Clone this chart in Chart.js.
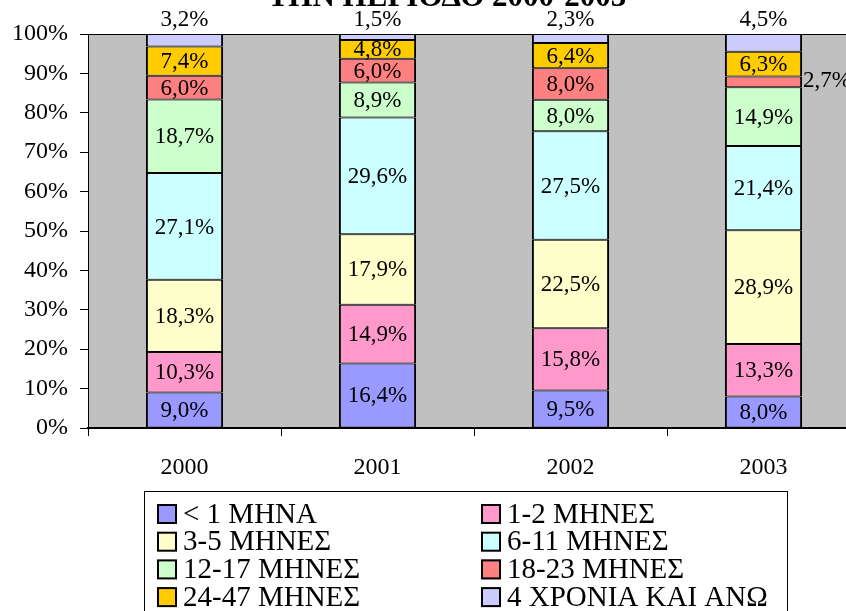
<!DOCTYPE html>
<html>
<head>
<meta charset="utf-8">
<script src="https://cdn.jsdelivr.net/npm/chart.js@4"></script>
<style>
  html, body { margin: 0; padding: 0; background: #fff; overflow: hidden; }
  #wrap { width: 880px; height: 611px; }
</style>
</head>
<body>
<div id="wrap"><canvas id="chart" width="880" height="611"></canvas></div>
<script>
(function () {
  'use strict';

  // ── Data ────────────────────────────────────────────
  const years = ['2000', '2001', '2002', '2003'];
  const seriesNames = ['< 1 ΜΗΝΑ', '1-2 ΜΗΝΕΣ', '3-5 ΜΗΝΕΣ', '6-11 ΜΗΝΕΣ',
    '12-17 ΜΗΝΕΣ', '18-23 ΜΗΝΕΣ', '24-47 ΜΗΝΕΣ', '4 ΧΡΟΝΙΑ ΚΑΙ ΑΝΩ'];
  const under1 = [9.0, 16.4, 9.5, 8.0];
  const m1to2 = [10.3, 14.9, 15.8, 13.3];
  const m3to5 = [18.3, 17.9, 22.5, 28.9];
  const m6to11 = [27.1, 29.6, 27.5, 21.4];
  const m12to17 = [18.7, 8.9, 8.0, 14.9];
  const m18to23 = [6.0, 6.0, 8.0, 2.7];
  const m24to47 = [7.4, 4.8, 6.4, 6.3];
  const y4plus = [3.2, 1.5, 2.3, 4.5];
  const yTicks = [0, 10, 20, 30, 40, 50, 60, 70, 80, 90, 100];
  const titleText = 'ΤΗΝ ΠΕΡΙΟΔΟ 2000-2003';

  const seriesValues = [under1, m1to2, m3to5, m6to11, m12to17, m18to23, m24to47, y4plus];
  const colors = ['#9999FF', '#FF99CC', '#FFFFCC', '#CCFFFF', '#CCFFCC', '#FF8080', '#FFCC00', '#CCCCFF'];
  const SERIF = "'Liberation Serif', 'Times New Roman', serif";

  function pct(v) { return v.toFixed(1).replace('.', ',') + '%'; }

  // gray plot background + top frame line
  const plotBg = {
    id: 'plotBg',
    beforeDraw: function (chart) {
      const a = chart.chartArea, ctx = chart.ctx;
      ctx.save();
      ctx.fillStyle = '#C0C0C0';
      ctx.fillRect(a.left, a.top, a.right - a.left, a.bottom - a.top);
      ctx.strokeStyle = '#000';
      ctx.lineWidth = 1;
      ctx.beginPath();
      ctx.moveTo(a.left, a.top + 0.5);
      ctx.lineTo(a.right, a.top + 0.5);
      ctx.stroke();
      ctx.restore();
    }
  };

  // value labels inside / above bars
  const barLabels = {
    id: 'barLabels',
    afterDatasetsDraw: function (chart) {
      const ctx = chart.ctx;
      const last = chart.data.datasets.length - 1;
      ctx.save();
      ctx.font = '23px ' + SERIF;
      ctx.fillStyle = '#000';
      ctx.textBaseline = 'middle';
      chart.data.datasets.forEach(function (ds, di) {
        chart.getDatasetMeta(di).data.forEach(function (bar, i) {
          const v = ds.data[i];
          const p = bar.getProps(['x', 'y', 'base', 'width'], true);
          if (di === last) {
            ctx.textAlign = 'center';
            ctx.fillText(pct(v), p.x, p.y - 14);
          } else if (v < 3.5) {
            ctx.textAlign = 'left';
            ctx.fillText(pct(v), p.x + p.width / 2 + 1, (p.y + p.base) / 2 - 1);
          } else {
            ctx.textAlign = 'center';
            ctx.fillText(pct(v), p.x, (p.y + p.base) / 2 + 1);
          }
        });
      });
      ctx.restore();
    }
  };

  // title (cut off at top) and two-column boxed legend
  const extras = {
    id: 'extras',
    afterDraw: function (chart) {
      const ctx = chart.ctx;
      ctx.save();
      ctx.fillStyle = '#000';
      ctx.font = 'bold 31px ' + SERIF;
      ctx.textAlign = 'center';
      ctx.textBaseline = 'alphabetic';
      ctx.fillText(titleText, 447, 6);

      ctx.strokeStyle = '#000';
      ctx.lineWidth = 1;
      ctx.strokeRect(144.5, 491.5, 643, 140);

      ctx.font = '29px ' + SERIF;
      ctx.textAlign = 'left';
      ctx.textBaseline = 'middle';
      chart.data.datasets.forEach(function (ds, i) {
        const col = i % 2, row = Math.floor(i / 2);
        const sx = col === 0 ? 157 : 481;
        const cy = 514 + row * 27.7;
        ctx.fillStyle = ds.backgroundColor;
        ctx.fillRect(sx, cy - 10, 20, 20);
        ctx.lineWidth = 2;
        ctx.strokeRect(sx + 1, cy - 9, 18, 18);
        ctx.fillStyle = '#000';
        ctx.fillText(ds.label, sx + 26, cy + 1);
      });
      ctx.restore();
    }
  };

  new Chart(document.getElementById('chart'), {
    type: 'bar',
    data: {
      labels: years,
      datasets: seriesNames.map(function (name, i) {
        return {
          label: name,
          data: seriesValues[i],
          backgroundColor: colors[i],
          borderColor: '#000',
          borderWidth: { top: 1, bottom: 1, left: 2, right: 2 },
          borderSkipped: false,
          categoryPercentage: 1,
          barPercentage: 0.4
        };
      })
    },
    options: {
      responsive: false,
      animation: false,
      events: [],
      layout: { padding: { top: 34, right: 20, left: 0, bottom: 0 } },
      plugins: { legend: { display: false }, tooltip: { enabled: false }, title: { display: false } },
      scales: {
        x: {
          stacked: true,
          afterFit: function (s) { s.height = 183; },
          grid: { offset: true, drawOnChartArea: false, tickLength: 8, color: '#000', tickWidth: 1 },
          border: { display: true, color: '#000', width: 2 },
          ticks: { color: '#000', padding: 17, font: { family: SERIF, size: 24 } }
        },
        y: {
          stacked: true,
          min: 0,
          max: 100,
          afterFit: function (s) { s.width = 88; },
          afterBuildTicks: function (s) { s.ticks = yTicks.map(function (v) { return { value: v }; }); },
          grid: { drawOnChartArea: false, tickLength: 8, color: '#000' },
          border: { display: true, color: '#000', width: 1 },
          ticks: {
            color: '#000', padding: 12,
            font: { family: SERIF, size: 24 },
            callback: function (v) { return v + '%'; }
          }
        }
      }
    },
    plugins: [plotBg, barLabels, extras]
  });
})();
</script>
</body>
</html>
